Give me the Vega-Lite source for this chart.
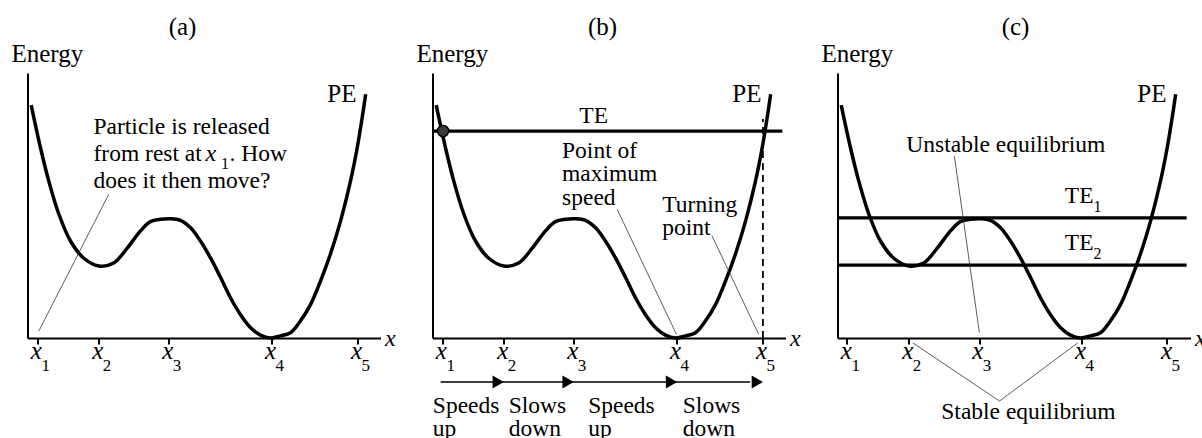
{
  "$schema": "https://vega.github.io/schema/vega-lite/v6.json",
  "autosize": {"type": "pad"},
  "padding": {"left": 10.5, "top": 15, "right": 0, "bottom": 0},
  "bounds": "flush",
  "spacing": 52,
  "background": "white",
  "config": {
    "font": "Liberation Serif, Times New Roman, DejaVu Serif, serif",
    "view": {"stroke": null},
    "text": {"font": "Liberation Serif, Times New Roman, DejaVu Serif, serif", "color": "black"},
    "axis": {"titleFont": "Liberation Serif, Times New Roman, DejaVu Serif, serif", "labelFont": "Liberation Serif, Times New Roman, DejaVu Serif, serif"},
    "title": {"font": "Liberation Serif, Times New Roman, DejaVu Serif, serif", "fontSize": 25, "fontWeight": "normal", "color": "black", "anchor": "middle", "frame": "group", "baseline": "alphabetic", "offset": 1}
  },
  "datasets": {
    "pe": [
      {"x": 1.05, "E": 87.9}, {"x": 3.68, "E": 71.8}, {"x": 6.03, "E": 59.2}, {"x": 8.87, "E": 46.8},
      {"x": 12.18, "E": 36.6}, {"x": 15.86, "E": 30.2}, {"x": 20.2, "E": 27.2}, {"x": 24.4, "E": 28.3},
      {"x": 28.3, "E": 34.0}, {"x": 32.0, "E": 40.4}, {"x": 34.8, "E": 43.9}, {"x": 37.7, "E": 44.8},
      {"x": 40.5, "E": 45.0}, {"x": 43.3, "E": 44.4}, {"x": 46.2, "E": 41.6}, {"x": 49.0, "E": 36.6},
      {"x": 51.8, "E": 30.3}, {"x": 54.7, "E": 22.8}, {"x": 57.5, "E": 15.2}, {"x": 60.3, "E": 8.9},
      {"x": 63.2, "E": 3.9}, {"x": 66.0, "E": 1.1}, {"x": 68.8, "E": 0.0}, {"x": 71.7, "E": 0.8},
      {"x": 74.5, "E": 2.0}, {"x": 77.3, "E": 6.4}, {"x": 80.2, "E": 12.7}, {"x": 83.0, "E": 21.5},
      {"x": 85.8, "E": 31.6}, {"x": 88.7, "E": 44.2}, {"x": 91.5, "E": 59.2}, {"x": 93.4, "E": 71.8},
      {"x": 94.8, "E": 83.1}, {"x": 95.8, "E": 92.0}
    ],
    "ticks": [
      {"x": 2.8, "E": 0, "sub": "1"}, {"x": 20.2, "E": 0, "sub": "2"}, {"x": 40.0, "E": 0, "sub": "3"},
      {"x": 69.1, "E": 0, "sub": "4"}, {"x": 93.5, "E": 0, "sub": "5"}
    ],
    "peLabel": [{"x": 93.2, "E": 89.2, "t": "PE"}],
    "aText": [
      {"x": 18.7, "E": 77.0, "t": "Particle is released"},
      {"x": 18.7, "E": 66.8, "t": "from rest at"},
      {"x": 57.2, "E": 66.8, "t": ". How"},
      {"x": 18.7, "E": 56.6, "t": "does it then move?"}
    ],
    "aItal": [{"x": 50.4, "E": 66.8, "t": "x"}],
    "aSub": [{"x": 54.8, "E": 63.6, "t": "1"}],
    "aLead": [{"x": 23.0, "E": 54.2, "x2": 3.2, "E2": 2.6}],
    "bTE": [{"x": 0, "E": 78.1, "x2": 99.1, "E2": 78.1}],
    "bDot": [{"x": 3.0, "E": 78.1}],
    "bDash": [{"x": 93.6, "E": 0, "x2": 93.6, "E2": 82.6}],
    "bText": [
      {"x": 41.6, "E": 81.2, "t": ["TE"]},
      {"x": 36.7, "E": 68.0, "t": ["Point of", "maximum", "speed"]},
      {"x": 65.1, "E": 47.7, "t": ["Turning", "point"]},
      {"x": 0.1, "E": -28.2, "t": ["Speeds", "up"]},
      {"x": 21.6, "E": -28.2, "t": ["Slows", "down"]},
      {"x": 44.1, "E": -28.2, "t": ["Speeds", "up"]},
      {"x": 70.9, "E": -28.2, "t": ["Slows", "down"]}
    ],
    "bLead": [
      {"x": 52.3, "E": 48.6, "x2": 69.1, "E2": 1.4},
      {"x": 79.2, "E": 38.5, "x2": 92.4, "E2": 1.4}
    ],
    "bArrowLine": [{"x": 2.3, "E": -16.6, "x2": 90.0, "E2": -16.6}],
    "bHeads": [
      {"x": 20.2, "E": -16.6}, {"x": 40.0, "E": -16.6}, {"x": 69.3, "E": -16.6}, {"x": 93.6, "E": -16.6}
    ],
    "cTE": [
      {"x": 0, "E": 45.3, "x2": 98.9, "E2": 45.3},
      {"x": 0, "E": 27.5, "x2": 98.9, "E2": 27.5}
    ],
    "cText": [
      {"x": 64.4, "E": 50.8, "t": "TE"},
      {"x": 64.4, "E": 33.1, "t": "TE"},
      {"x": 19.5, "E": 70.3, "t": "Unstable equilibrium"},
      {"x": 29.4, "E": -30.7, "t": "Stable equilibrium"}
    ],
    "cSub": [
      {"x": 72.5, "E": 47.5, "t": "1"},
      {"x": 72.5, "E": 29.7, "t": "2"}
    ],
    "cLead": [
      {"x": 33.1, "E": 68.7, "x2": 40.2, "E2": 2.0},
      {"x": 45.9, "E": -23.8, "x2": 21.3, "E2": -1.8},
      {"x": 45.9, "E": -23.8, "x2": 68.1, "E2": -1.8}
    ]
  },
  "hconcat": [
    {
      "width": 353,
      "height": 265,
      "title": {"text": "(a)", "dx": -21.5},
      "encoding": {
        "x": {"field": "x", "type": "quantitative", "scale": {"domain": [0, 100]},
          "axis": {"title": "x", "titleFontStyle": "italic", "titleFontSize": 24, "titleFontWeight": "normal", "titleColor": "black", "titleAlign": "left", "titleBaseline": "alphabetic", "titleAngle": 0, "titleX": 357, "titleY": 7, "values": [2.8, 20.2, 40, 69.1, 93.5], "labels": false, "ticks": true, "tickSize": 6, "tickWidth": 2, "tickColor": "black", "domainColor": "black", "domainWidth": 2, "grid": false}},
        "y": {"field": "E", "type": "quantitative", "scale": {"domain": [0, 100]},
          "axis": {"title": "Energy", "titleAngle": 0, "titleAlign": "left", "titleBaseline": "alphabetic", "titleX": -16.5, "titleY": -12, "titleFontSize": 25, "titleFontWeight": "normal", "titleColor": "black", "labels": false, "ticks": false, "domainColor": "black", "domainWidth": 2, "grid": false}}
      },
      "layer": [
        {"data": {"name": "pe"}, "mark": {"type": "line", "color": "black", "strokeWidth": 3.5, "interpolate": "catmull-rom"}},
        {"data": {"name": "aLead"}, "mark": {"type": "rule", "color": "#333", "strokeWidth": 0.8}, "encoding": {"x2": {"field": "x2"}, "y2": {"field": "E2"}}},
        {"data": {"name": "ticks"}, "mark": {"type": "text", "text": "x", "fontStyle": "italic", "fontSize": 25, "align": "center", "baseline": "alphabetic", "dx": -1, "dy": 21}},
        {"data": {"name": "ticks"}, "mark": {"type": "text", "fontSize": 17, "align": "left", "baseline": "alphabetic", "dx": 4, "dy": 33}, "encoding": {"text": {"field": "sub"}}},
        {"data": {"name": "peLabel"}, "mark": {"type": "text", "fontSize": 25, "align": "right", "baseline": "alphabetic"}, "encoding": {"text": {"field": "t"}}},
        {"data": {"name": "aText"}, "mark": {"type": "text", "fontSize": 23.5, "align": "left", "baseline": "alphabetic"}, "encoding": {"text": {"field": "t"}}},
        {"data": {"name": "aItal"}, "mark": {"type": "text", "fontSize": 24, "fontStyle": "italic", "align": "left", "baseline": "alphabetic"}, "encoding": {"text": {"field": "t"}}},
        {"data": {"name": "aSub"}, "mark": {"type": "text", "fontSize": 16, "align": "left", "baseline": "alphabetic"}, "encoding": {"text": {"field": "t"}}}
      ]
    },
    {
      "width": 353,
      "height": 265,
      "title": {"text": "(b)", "dx": -6.5},
      "encoding": {
        "x": {"field": "x", "type": "quantitative", "scale": {"domain": [0, 100]},
          "axis": {"title": "x", "titleFontStyle": "italic", "titleFontSize": 24, "titleFontWeight": "normal", "titleColor": "black", "titleAlign": "left", "titleBaseline": "alphabetic", "titleAngle": 0, "titleX": 357, "titleY": 7, "values": [2.8, 20.2, 40, 69.1, 93.5], "labels": false, "ticks": true, "tickSize": 6, "tickWidth": 2, "tickColor": "black", "domainColor": "black", "domainWidth": 2, "grid": false}},
        "y": {"field": "E", "type": "quantitative", "scale": {"domain": [0, 100]},
          "axis": {"title": "Energy", "titleAngle": 0, "titleAlign": "left", "titleBaseline": "alphabetic", "titleX": -16.5, "titleY": -12, "titleFontSize": 25, "titleFontWeight": "normal", "titleColor": "black", "labels": false, "ticks": false, "domainColor": "black", "domainWidth": 2, "grid": false}}
      },
      "layer": [
        {"data": {"name": "bDash"}, "mark": {"type": "rule", "color": "black", "strokeWidth": 1.8, "strokeDash": [7, 5]}, "encoding": {"x2": {"field": "x2"}, "y2": {"field": "E2"}}},
        {"data": {"name": "pe"}, "mark": {"type": "line", "color": "black", "strokeWidth": 3.5, "interpolate": "catmull-rom"}},
        {"data": {"name": "bTE"}, "mark": {"type": "rule", "color": "black", "strokeWidth": 3.2}, "encoding": {"x2": {"field": "x2"}, "y2": {"field": "E2"}}},
        {"data": {"name": "bDot"}, "mark": {"type": "point", "shape": "circle", "filled": true, "fill": "#3a3a3a", "stroke": "black", "strokeWidth": 1.5, "size": 126, "opacity": 1}},
        {"data": {"name": "bLead"}, "mark": {"type": "rule", "color": "#333", "strokeWidth": 0.8}, "encoding": {"x2": {"field": "x2"}, "y2": {"field": "E2"}}},
        {"data": {"name": "bArrowLine"}, "mark": {"type": "rule", "color": "black", "strokeWidth": 1.6}, "encoding": {"x2": {"field": "x2"}, "y2": {"field": "E2"}}},
        {"data": {"name": "bHeads"}, "mark": {"type": "point", "shape": "triangle-right", "filled": true, "color": "black", "size": 170, "opacity": 1, "xOffset": -5.6}},
        {"data": {"name": "ticks"}, "mark": {"type": "text", "text": "x", "fontStyle": "italic", "fontSize": 25, "align": "center", "baseline": "alphabetic", "dx": -1, "dy": 21}},
        {"data": {"name": "ticks"}, "mark": {"type": "text", "fontSize": 17, "align": "left", "baseline": "alphabetic", "dx": 4, "dy": 33}, "encoding": {"text": {"field": "sub"}}},
        {"data": {"name": "peLabel"}, "mark": {"type": "text", "fontSize": 25, "align": "right", "baseline": "alphabetic"}, "encoding": {"text": {"field": "t"}}},
        {"data": {"name": "bText"}, "mark": {"type": "text", "fontSize": 23.5, "align": "left", "baseline": "alphabetic", "lineHeight": 23.5}, "encoding": {"text": {"field": "t"}}}
      ]
    },
    {
      "width": 353,
      "height": 265,
      "title": {"text": "(c)", "dx": 1.5},
      "encoding": {
        "x": {"field": "x", "type": "quantitative", "scale": {"domain": [0, 100]},
          "axis": {"title": "x", "titleFontStyle": "italic", "titleFontSize": 24, "titleFontWeight": "normal", "titleColor": "black", "titleAlign": "left", "titleBaseline": "alphabetic", "titleAngle": 0, "titleX": 357, "titleY": 7, "values": [2.6, 20.0, 40.2, 69.1, 93.3], "labels": false, "ticks": true, "tickSize": 6, "tickWidth": 2, "tickColor": "black", "domainColor": "black", "domainWidth": 2, "grid": false}},
        "y": {"field": "E", "type": "quantitative", "scale": {"domain": [0, 100]},
          "axis": {"title": "Energy", "titleAngle": 0, "titleAlign": "left", "titleBaseline": "alphabetic", "titleX": -16.5, "titleY": -12, "titleFontSize": 25, "titleFontWeight": "normal", "titleColor": "black", "labels": false, "ticks": false, "domainColor": "black", "domainWidth": 2, "grid": false}}
      },
      "layer": [
        {"data": {"name": "pe"}, "mark": {"type": "line", "color": "black", "strokeWidth": 3.5, "interpolate": "catmull-rom"}},
        {"data": {"name": "cTE"}, "mark": {"type": "rule", "color": "black", "strokeWidth": 3.2}, "encoding": {"x2": {"field": "x2"}, "y2": {"field": "E2"}}},
        {"data": {"name": "cLead"}, "mark": {"type": "rule", "color": "#333", "strokeWidth": 0.8}, "encoding": {"x2": {"field": "x2"}, "y2": {"field": "E2"}}},
        {"data": {"name": "ticks"}, "mark": {"type": "text", "text": "x", "fontStyle": "italic", "fontSize": 25, "align": "center", "baseline": "alphabetic", "dx": -1, "dy": 21}},
        {"data": {"name": "ticks"}, "mark": {"type": "text", "fontSize": 17, "align": "left", "baseline": "alphabetic", "dx": 4, "dy": 33}, "encoding": {"text": {"field": "sub"}}},
        {"data": {"name": "peLabel"}, "mark": {"type": "text", "fontSize": 25, "align": "right", "baseline": "alphabetic"}, "encoding": {"text": {"field": "t"}}},
        {"data": {"name": "cText"}, "mark": {"type": "text", "fontSize": 23.5, "align": "left", "baseline": "alphabetic"}, "encoding": {"text": {"field": "t"}}},
        {"data": {"name": "cSub"}, "mark": {"type": "text", "fontSize": 16, "align": "left", "baseline": "alphabetic"}, "encoding": {"text": {"field": "t"}}}
      ]
    }
  ]
}
